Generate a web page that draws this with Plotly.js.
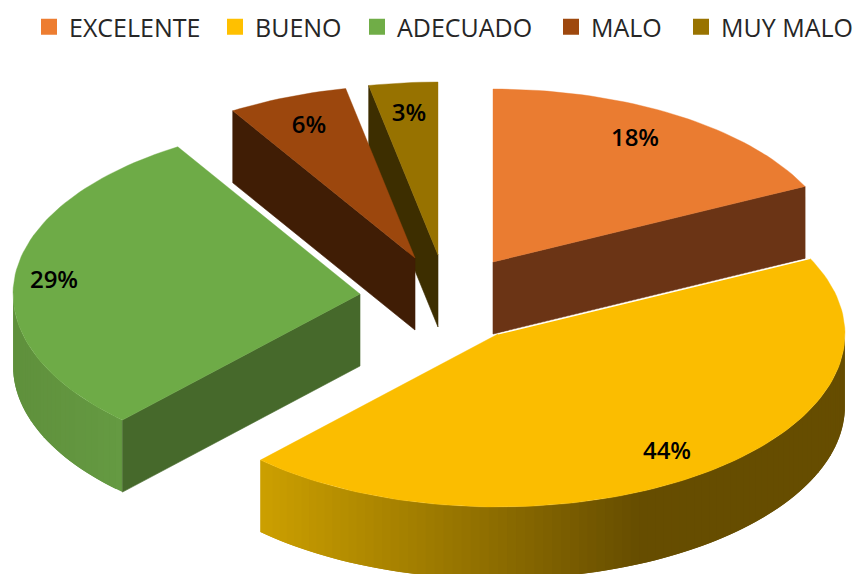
<!DOCTYPE html>
<html><head><meta charset="utf-8">
<script src="https://cdn.plot.ly/plotly-3.0.1.min.js"></script>
<style>html,body{margin:0;padding:0;background:#fff}#c{width:856px;height:574px}</style>
</head><body><div id="c"></div><script>
// Data
const categories = ["EXCELENTE","BUENO","ADECUADO","MALO","MUY MALO"];
const values = [17.8, 44.2, 29.2, 5.6, 3.2];

// Styling and projection of the tilted, exploded pie
const legendColors = ["#ED7D31","#FFC000","#70AD47","#9E480E","#997300"];
const topColors = ["#EA7C31","#FBBD00","#6EAB47","#9C470D","#977200"];
const cutColors = ["#6B3415","#664D00","#46692B","#401D05","#3D2E00"];
const centersX = [493,498,360,415,438];
const centersY = [262,334,294,258,255];
const labelX = [635,667,54,309,409];
const labelY = [140,453,282,127,115];
const legendTextX = [69,255,397,591,721];
const RX = 347, RY = 173, DEPTH = 72;
const FONT = '"Open Sans", sans-serif';

const total = values.reduce((a,b)=>a+b,0);
const rad = d => d*Math.PI/180;
let acc = 0;
const slices = values.map((v,i)=>{const s=acc; acc+=v/total*360; return {s, e:acc, cx:centersX[i], cy:centersY[i]};});
const pt = (sl,t,drop=0)=>[sl.cx+RX*Math.sin(rad(t)), sl.cy-RY*Math.cos(rad(t))+drop];
const mix = (a,b,f)=>'rgb('+a.map((c,i)=>Math.round(c+(b[i]-c)*f)).join(',')+')';

const traces = [];
const poly = (pts,color,lw=0.6)=>traces.push({
  type:'scatter', mode:'lines', x:pts.map(p=>p[0]), y:pts.map(p=>p[1]),
  fill:'toself', fillcolor:color, line:{color:color,width:lw},
  hoverinfo:'skip', showlegend:false
});
const cutFace = (sl,t,color)=>{
  const a=[sl.cx,sl.cy], b=pt(sl,t);
  poly([a,b,[b[0],b[1]+DEPTH],[a[0],a[1]+DEPTH],a],color);
};
const arc = (sl,a,b,drop=0)=>{const r=[];const n=Math.max(2,Math.ceil(Math.abs(b-a)/1.5));
  for(let k=0;k<=n;k++) r.push(pt(sl,a+(b-a)*k/n,drop)); return r;};
// Side wall painted as overlapping strips so no seams show
const wall = (sl,a,b,colorAt)=>{
  const step=1.5;
  for(let t=a;t<b;t+=step){
    const t2=Math.min(b,t+step*2);
    const up=arc(sl,t,t2), dn=arc(sl,t,t2,DEPTH).reverse();
    poly(up.concat(dn,[up[0]]), colorAt(pt(sl,t+step/2)[0]), 0);
  }
};
const topFace = (sl,color)=>{
  const a=[sl.cx,sl.cy];
  poly([a].concat(arc(sl,sl.s,sl.e),[a]),color,0.4);
};

const [ex,bu,ad,ma,mm] = slices;
// back to front
cutFace(mm,mm.s,cutColors[4]); topFace(mm,topColors[4]);
cutFace(ma,ma.s,cutColors[3]); topFace(ma,topColors[3]);
wall(ad,ad.s,270,x=>mix([95,144,60],[101,154,66],Math.min(1,Math.max(0,(x-13)/109))));
cutFace(ad,ad.s,cutColors[2]); topFace(ad,topColors[2]);
cutFace(ex,ex.e,cutColors[0]); topFace(ex,topColors[0]);
wall(bu,90,bu.e,x=>mix([204,160,0],[102,77,0],Math.min(1,Math.max(0,(x-260)/(640-260)))));
topFace(bu,topColors[1]);
const be=[[bu.cx,bu.cy],pt(bu,bu.s)];
traces.push({type:'scatter',mode:'lines',x:be.map(p=>p[0]),y:be.map(p=>p[1]),
  line:{color:'#ffffff',width:1.2},hoverinfo:'skip',showlegend:false});

// Percentage labels
traces.push({type:'scatter',mode:'text',x:labelX,y:labelY,
  text:values.map(v=>Math.round(v)+'%'),textposition:'middle center',
  textfont:{family:FONT,size:24,color:'#000',weight:600},hoverinfo:'skip',showlegend:false});

// One native legend per category so each entry can sit at its own place
const legendKeys = categories.map((c,i)=> i===0 ? 'legend' : 'legend'+(i+1));
categories.forEach((c,i)=>traces.push({type:'scatter',mode:'markers',x:[null],y:[null],name:c,
  legend:legendKeys[i], showlegend:true,
  marker:{symbol:'square',size:16,color:legendColors[i]},hoverinfo:'skip'}));

const hidden={visible:false,fixedrange:true};
const layout={
  width:856,height:574,margin:{l:0,r:0,t:0,b:0,autoexpand:false},
  paper_bgcolor:'#fff',plot_bgcolor:'#fff',
  xaxis:Object.assign({range:[0,856]},hidden),
  yaxis:Object.assign({range:[574,0]},hidden),
  showlegend:true
};
legendKeys.forEach((k,i)=>{
  layout[k]={x:(legendTextX[i]-40)/856,y:1-4/574,xanchor:'left',yanchor:'top',
    bgcolor:'rgba(0,0,0,0)',font:{family:FONT,size:25,color:'#262626'}};
});
Plotly.newPlot('c',traces,layout,{displayModeBar:false,staticPlot:true});
</script></body></html>
